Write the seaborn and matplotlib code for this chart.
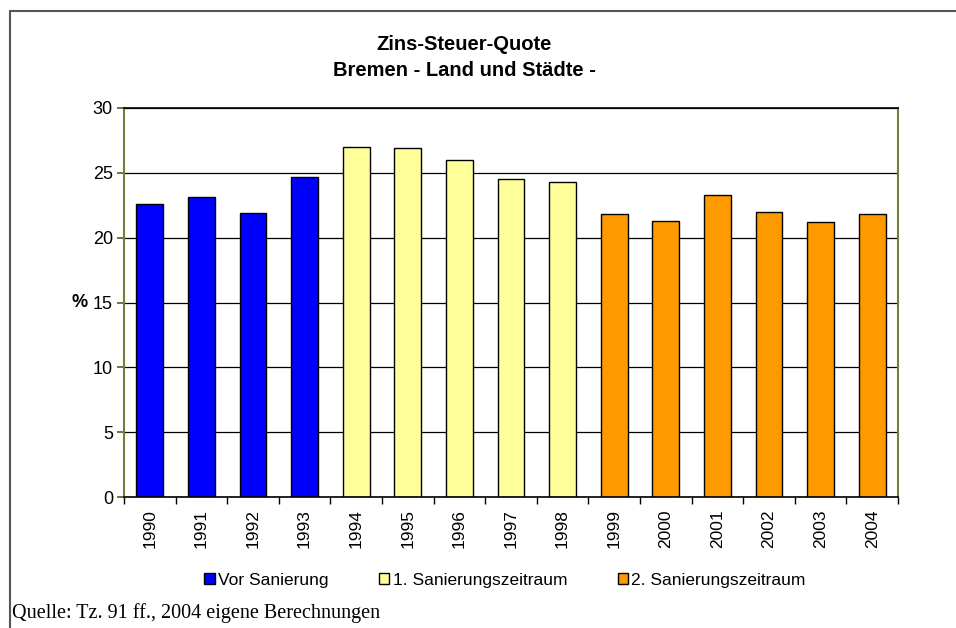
import pandas as pd
import numpy as np
import matplotlib.pyplot as plt
import matplotlib.patches as mpatches
from matplotlib.lines import Line2D
import seaborn as sns

years = ["1990", "1991", "1992", "1993", "1994", "1995", "1996", "1997",
         "1998", "1999", "2000", "2001", "2002", "2003", "2004"]
quote = [22.6, 23.1, 21.9, 24.7, 27.0, 26.9, 26.0, 24.5,
         24.3, 21.8, 21.3, 23.3, 22.0, 21.2, 21.8]
periode = ["Vor Sanierung"] * 4 + ["1. Sanierungszeitraum"] * 5 + ["2. Sanierungszeitraum"] * 6
period_names = ["Vor Sanierung", "1. Sanierungszeitraum", "2. Sanierungszeitraum"]
period_colors = ["#0000FF", "#FFFF99", "#FF9900"]

df = pd.DataFrame({"jahr": years, "quote": quote, "periode": periode})

sns.set_theme(style="white")
plt.rcParams["font.family"] = ["Liberation Sans", "DejaVu Sans"]
plt.rcParams.update({"text.color": "black", "axes.labelcolor": "black",
                     "xtick.color": "black", "ytick.color": "black"})

fig = plt.figure(figsize=(9.56, 6.28), dpi=100)
ax = fig.add_axes([124 / 956, 1 - 497 / 628, 774 / 956, 389 / 628])

sns.barplot(data=df, x="jahr", y="quote", hue="periode", hue_order=period_names,
            palette=period_colors, dodge=False, width=0.52, saturation=1,
            edgecolor="black", linewidth=1, ax=ax, legend=False)

ax.set_ylim(0, 30)
ax.set_xlim(-0.5, len(years) - 0.5)
ax.set_yticks([0, 5, 10, 15, 20, 25, 30])
ax.yaxis.grid(True, color="black", linewidth=0.9)
ax.set_axisbelow(True)
ax.tick_params(axis="y", labelsize=13, length=5, direction="out", left=True,
               color="#606030", pad=3)
ax.tick_params(axis="x", labelsize=12.5, length=0, rotation=90, pad=9)
ax.set_xticks(np.arange(-0.5, len(years), 1.0), minor=True)
ax.tick_params(axis="x", which="minor", length=5, direction="out", bottom=True, color="black")
ax.set_xlabel("")
ax.set_ylabel("%", rotation=0, fontsize=13, fontweight="bold", va="center")
ax.yaxis.set_label_coords(-0.058, 0.5)

for side in ["top", "bottom"]:
    ax.spines[side].set_color("black")
    ax.spines[side].set_linewidth(1.2)
for side in ["left", "right"]:
    ax.spines[side].set_color("#7A7A3A")
    ax.spines[side].set_linewidth(1.5)

# two-line title, drawn as figure text
fig.text(464 / 956, 1 - 45 / 628, "Zins-Steuer-Quote", ha="center", va="center",
         fontsize=14.5, fontweight="bold")
fig.text(464 / 956, 1 - 71 / 628, "Bremen - Land und Städte -", ha="center", va="center",
         fontsize=14.5, fontweight="bold")

handles = [mpatches.Patch(facecolor=c, edgecolor="black", linewidth=1) for c in period_colors]
fig.legend(handles, period_names, loc="center", bbox_to_anchor=(505 / 956, 1 - 580 / 628),
           ncol=3, frameon=False, handlelength=0.6, handleheight=0.65,
           handletextpad=0.2, columnspacing=2.9, borderpad=0, prop={"size": 12.5})

fig.text(12 / 956, 1 - 613 / 628, "Quelle: Tz. 91 ff., 2004 eigene Berechnungen",
         ha="left", va="center", fontsize=14.5,
         family=["Liberation Serif", "DejaVu Serif"])

# outer frame (top and left edge only)
fig.add_artist(Line2D([10 / 956, 1.0], [1 - 11 / 628, 1 - 11 / 628],
                      transform=fig.transFigure, color="#555555", linewidth=1.5))
fig.add_artist(Line2D([10 / 956, 10 / 956], [1 - 11 / 628, 0.0],
                      transform=fig.transFigure, color="#555555", linewidth=1.5))

fig.savefig("out.png", dpi=100)
